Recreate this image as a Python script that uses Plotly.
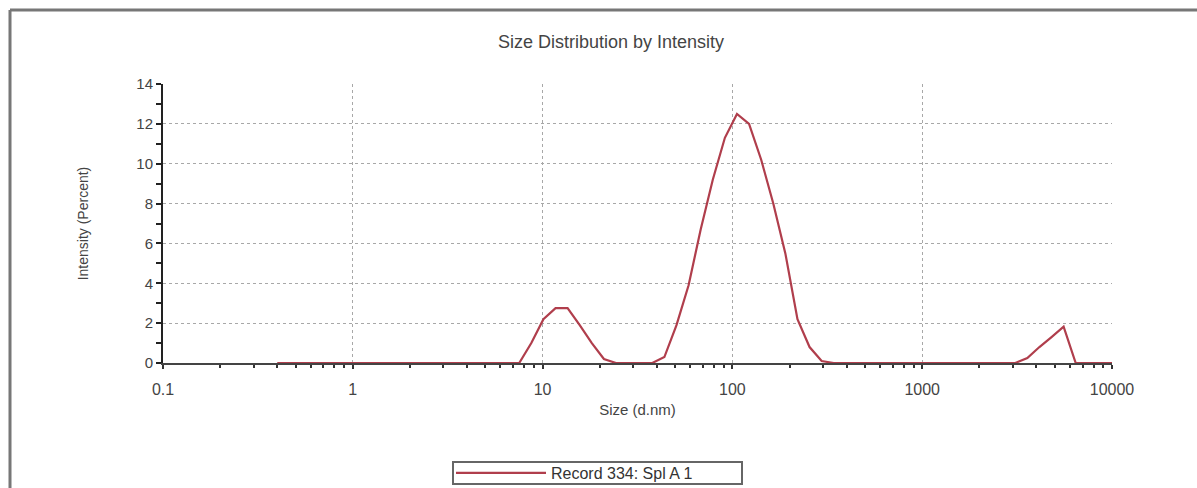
import plotly.graph_objects as go

# Size bins (d.nm)
sizes = [0.4, 0.4632, 0.5365, 0.6213, 0.7195, 0.8332, 0.9649, 1.117, 1.294, 1.499,
         1.736, 2.010, 2.328, 2.696, 3.122, 3.615, 4.187, 4.849, 5.615, 6.503,
         7.531, 8.721, 10.10, 11.70, 13.54, 15.69, 18.17, 21.04, 24.36, 28.21,
         32.67, 37.84, 43.82, 50.75, 58.77, 68.06, 78.82, 91.28, 105.7, 122.4,
         141.8, 164.2, 190.1, 220.2, 255.0, 295.3, 342.0, 396.1, 458.7, 531.2,
         615.1, 712.4, 825.0, 955.4, 1106, 1281, 1484, 1718, 1990, 2305,
         2669, 3091, 3580, 4145, 4801, 5560, 6439, 7456, 8635, 10000]

# Intensity (Percent)
intensity = [0, 0, 0, 0, 0, 0, 0, 0, 0, 0,
             0, 0, 0, 0, 0, 0, 0, 0, 0, 0,
             0, 1.0, 2.2, 2.75, 2.75, 1.9, 1.0, 0.2, 0, 0,
             0, 0, 0.3, 1.9, 3.9, 6.7, 9.2, 11.3, 12.5, 12.0,
             10.2, 8.0, 5.5, 2.2, 0.8, 0.1, 0, 0, 0, 0,
             0, 0, 0, 0, 0, 0, 0, 0, 0, 0,
             0, 0, 0.25, 0.8, 1.3, 1.82, 0, 0, 0, 0]

x_tick_vals = [0.1, 1, 10, 100, 1000, 10000]
x_tick_text = ["0.1", "1", "10", "100", "1000", "10000"]
y_tick_vals = [0, 2, 4, 6, 8, 10, 12, 14]

series_name = "Record 334: Spl A 1"

minor_x = [m * d for d in [0.1, 1, 10, 100, 1000] for m in range(2, 10)]

fig = go.Figure()
fig.add_trace(go.Scatter(
    x=sizes, y=intensity, mode="lines", name=series_name,
    line=dict(color="#b03e4c", width=2.2), cliponaxis=False,
))

font_family = "Arial, Liberation Sans, sans-serif"
W, H = 1197, 488
L, R, T, B = 163, 85, 84, 125
pw, ph = W - L - R, H - T - B

def px(xp):
    return (xp - L) / pw

def py(yp):
    return (H - B - yp) / ph

fig.update_layout(
    width=W, height=H,
    margin=dict(l=L, r=R, t=T, b=B, pad=0, autoexpand=False),
    paper_bgcolor="white", plot_bgcolor="white",
    font=dict(family=font_family, color="#444"),
    title=dict(text="Size Distribution by Intensity", xref="container", x=611 / W, xanchor="center",
               yref="container", y=1 - 42 / H, yanchor="middle", font=dict(size=18, color="#444")),
    showlegend=True,
    legend=dict(orientation="h", xref="paper", x=px(451), xanchor="left",
                yref="container", y=1 - 473 / H, yanchor="middle",
                borderwidth=0, bgcolor="rgba(0,0,0,0)",
                font=dict(size=16, color="#333"), itemwidth=90),
    xaxis=dict(
        type="log", range=[-1, 4], tickvals=x_tick_vals, ticktext=x_tick_text,
        showgrid=True, gridcolor="#a8a8a8", griddash="dot", gridwidth=1,
        showline=True, linecolor="#444", linewidth=2,
        ticks="outside", ticklen=4, tickcolor="#333", tickwidth=2,
        ticklabelstandoff=7,
        tickfont=dict(size=16, color="#444"),
        minor=dict(tickvals=minor_x, ticks="outside", ticklen=3, tickcolor="#333", showgrid=False),
        title=dict(text="Size (d.nm)", font=dict(size=15, color="#444"), standoff=7),
        zeroline=False,
    ),
    yaxis=dict(
        range=[0, 14], tickvals=y_tick_vals,
        showgrid=True, gridcolor="#a8a8a8", griddash="dot", gridwidth=1,
        showline=True, linecolor="#222", linewidth=2,
        ticks="outside", ticklen=5, tickcolor="#222", tickwidth=2,
        tickfont=dict(size=15, color="#444"),
        minor=dict(dtick=1, ticks="outside", ticklen=5, tickcolor="#222", showgrid=False),
        title=dict(text="Intensity (Percent)", font=dict(size=14, color="#444"), standoff=44),
        zeroline=False,
    ),
    shapes=[
        dict(type="line", xref="paper", yref="paper", x0=px(10), x1=px(1200), y0=py(10), y1=py(10),
             line=dict(color="#777", width=3)),
        dict(type="line", xref="paper", yref="paper", x0=px(10), x1=px(10), y0=py(10), y1=py(492),
             line=dict(color="#777", width=3)),
        dict(type="rect", xref="paper", yref="paper", x0=px(453), x1=px(742), y0=py(462), y1=py(484),
             line=dict(color="#666", width=2), fillcolor="rgba(0,0,0,0)", layer="below"),
    ],
)

fig.write_html("out.html", config={"displayModeBar": False},
               post_script="document.body.style.margin='0';")
